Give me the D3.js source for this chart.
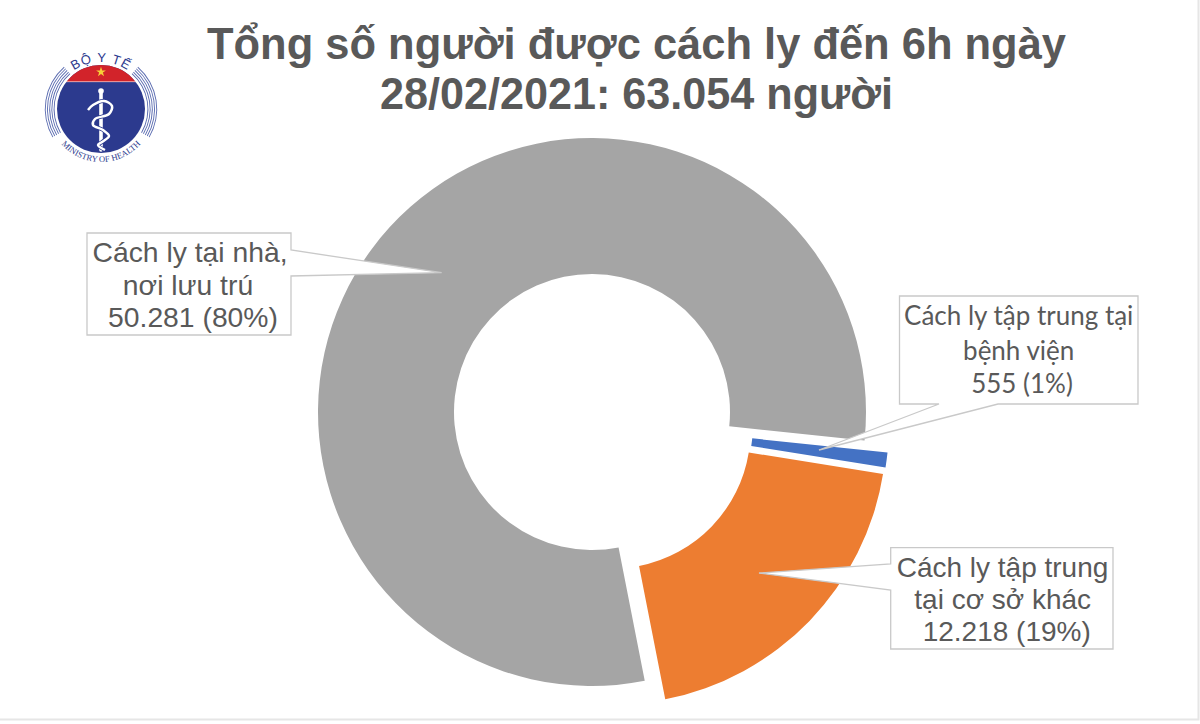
<!DOCTYPE html>
<html>
<head>
<meta charset="utf-8">
<script src="https://cdn.jsdelivr.net/npm/d3@7"></script>
<style>
  html, body { margin: 0; padding: 0; background: #fff; overflow: hidden; }
  svg { display: block; }
</style>
</head>
<body>
<script>
const titleLines = ["Tổng số người được cách ly đến 6h ngày", "28/02/2021: 63.054 người"];
const categories = ["Cách ly tại nhà, nơi lưu trú", "Cách ly tập trung tại bệnh viện", "Cách ly tập trung tại cơ sở khác"];
const values = [50281, 555, 12218];
const colors = ["#a5a5a5", "#4472c4", "#ed7d31"];

const width = 1200;
const height = 724;
const textColor = "#595959";

const svg = d3.select("body").append("svg").attr("width", width).attr("height", height);

// faint frame of the original slide, right and bottom only
svg.append("path")
  .attr("d", "M1198.5,0V719.5H0")
  .attr("fill", "none")
  .attr("stroke", "#e6e6e6")
  .attr("stroke-width", 2);

// title, the original glyphs are a bit narrow so squeeze them to its width
const titleWidth = [859, 513];
svg.append("g").selectAll("text")
  .data(titleLines)
  .enter()
  .append("text")
  .attr("x", (d, i) => (i == 0 ? 636.5 : 636.5))
  .attr("y", (d, i) => 59 + i * 50)
  .attr("text-anchor", "middle")
  .attr("font-family", "'Liberation Sans', Arial, sans-serif")
  .attr("font-weight", "bold")
  .attr("font-size", 45)
  .attr("textLength", (d, i) => titleWidth[i])
  .attr("lengthAdjust", "spacingAndGlyphs")
  .attr("fill", textColor)
  .text(d => d);

// donut, slices are pulled out by hand so every slice has its own shift
const cx = 592;
const cy = 412;
const shift = [[0, 0], [23, 12], [20.5, 18.5]];
const rotation = 168.9 * Math.PI / 180;

const pie = d3.pie().sort(null).startAngle(rotation).endAngle(rotation + 2 * Math.PI);
const arc = d3.arc().innerRadius(138).outerRadius(274);

svg.append("g").selectAll("path")
  .data(pie(values))
  .enter()
  .append("path")
  .attr("d", arc)
  .attr("fill", (d, i) => colors[i])
  .attr("transform", (d, i) => "translate(" + (cx + shift[i][0]) + "," + (cy + shift[i][1]) + ")")
  .append("title")
  .text((d, i) => categories[i]);

// callouts: box with a pointer going to the slice
const callouts = [
  {
    box: [87, 233, 291, 335],
    pointer: [[291, 250], [441.7, 272.7], [291, 276]],
    side: "right",
    font: "'Liberation Sans', Arial, sans-serif",
    size: 28.3,
    lines: [["Cách ly tại nhà,", 190, 262], ["nơi lưu trú", 188, 295], ["50.281 (80%)", 193, 327]]
  },
  {
    box: [899.5, 296, 1138, 404],
    pointer: [[998, 404], [819, 450], [939, 404]],
    side: "bottom",
    font: "Lato, 'Noto Sans', sans-serif",
    size: 26,
    lines: [["Cách ly tập trung tại", 1018.7, 325], ["bệnh viện", 1018.7, 360], ["555 (1%)", 1022, 393]]
  },
  {
    box: [890.7, 547.7, 1113, 649],
    pointer: [[890.7, 564], [759, 573], [890.7, 590]],
    side: "left",
    font: "'Liberation Sans', Arial, sans-serif",
    size: 28,
    lines: [["Cách ly tập trung", 1002.5, 577], ["tại cơ sở khác", 1002.7, 609], ["12.218 (19%)", 1006.7, 641]]
  }
];

function calloutPoints(c) {
  const [x0, y0, x1, y1] = c.box;
  if (c.side == "right") return [[x0, y0], [x1, y0], ...c.pointer, [x1, y1], [x0, y1]];
  if (c.side == "bottom") return [[x0, y0], [x1, y0], [x1, y1], ...c.pointer, [x0, y1]];
  return [[x0, y0], [x1, y0], [x1, y1], [x0, y1], c.pointer[2], c.pointer[1], c.pointer[0]];
}

const callout = svg.append("g").selectAll("g").data(callouts).enter().append("g");

callout.append("path")
  .attr("d", d => d3.line()(calloutPoints(d)) + "Z")
  .attr("fill", "#fff")
  .attr("stroke", "#c9c9c9")
  .attr("stroke-width", 1.3);

callout.selectAll("text")
  .data(d => d.lines.map(l => ({ t: l[0], x: l[1], y: l[2], font: d.font, size: d.size })))
  .enter()
  .append("text")
  .attr("x", d => d.x)
  .attr("y", d => d.y)
  .attr("text-anchor", "middle")
  .attr("font-family", d => d.font)
  .attr("font-size", d => d.size)
  .attr("fill", textColor)
  .text(d => d.t);

// ministry logo, top left
const logo = svg.append("g").attr("transform", "translate(101,109)");
const logoBlue = "#2c3a8e";

const defs = svg.append("defs");
defs.append("clipPath").attr("id", "capClip").append("rect")
  .attr("x", -50).attr("y", -50).attr("width", 100).attr("height", 22.5);
defs.append("path").attr("id", "topCurve").attr("d", "M-47,0A47,47 0 0 1 47,0");
defs.append("path").attr("id", "bottomCurve").attr("d", "M-53,0A53,53 0 0 0 53,0");

logo.append("circle").attr("r", 44).attr("fill", logoBlue);
logo.append("rect").attr("x", -45).attr("y", -28.5).attr("width", 90).attr("height", 1.6).attr("fill", "#fff");
logo.append("circle").attr("r", 44).attr("fill", "#d2232a").attr("clip-path", "url(#capClip)");

logo.append("path")
  .attr("d", d3.symbol().type(d3.symbolStar).size(30)())
  .attr("transform", "translate(0,-37)")
  .attr("fill", "#f7d038");

// rings on both sides, they stop above the bottom lettering
[46.5, 48.7, 50.9, 53.1, 55.3].forEach(r => {
  [[0.72, 2.1], [-2.1, -0.72]].forEach(a => {
    logo.append("path")
      .attr("d", d3.arc().innerRadius(r).outerRadius(r + 0.9).startAngle(a[0]).endAngle(a[1])())
      .attr("fill", "#5a6bb0");
  });
});

// rod and snake
logo.append("line")
  .attr("x1", 0).attr("x2", 0).attr("y1", -17).attr("y2", 41)
  .attr("stroke", "#fff").attr("stroke-width", 3.6).attr("stroke-linecap", "round");
logo.append("circle").attr("cy", -18).attr("r", 2.8).attr("fill", "#fff");

const snake = d3.line().curve(d3.curveCatmullRom)([[-13, 1], [-8, -4], [3, -8], [11, -3], [8, 5], [-6, 10], [-8, 16], [2, 21], [8, 27], [1, 33], [-3, 36], [4, 41]]);
logo.append("path").attr("d", snake).attr("fill", "none").attr("stroke", logoBlue).attr("stroke-width", 4);
logo.append("path").attr("d", snake).attr("fill", "none").attr("stroke", "#fff").attr("stroke-width", 2.5);

logo.append("text")
  .attr("font-family", "'Liberation Sans', Arial, sans-serif")
  .attr("font-size", 13)
  .attr("letter-spacing", 1)
  .attr("fill", logoBlue)
  .attr("text-anchor", "middle")
  .append("textPath")
  .attr("href", "#topCurve")
  .attr("startOffset", "50%")
  .text("BỘ Y TẾ");

logo.append("text")
  .attr("font-family", "'Liberation Serif', serif")
  .attr("font-size", 8.6)
  .attr("fill", logoBlue)
  .attr("text-anchor", "middle")
  .append("textPath")
  .attr("href", "#bottomCurve")
  .attr("startOffset", "50%")
  .text("MINISTRY OF HEALTH");
</script>
</body>
</html>
